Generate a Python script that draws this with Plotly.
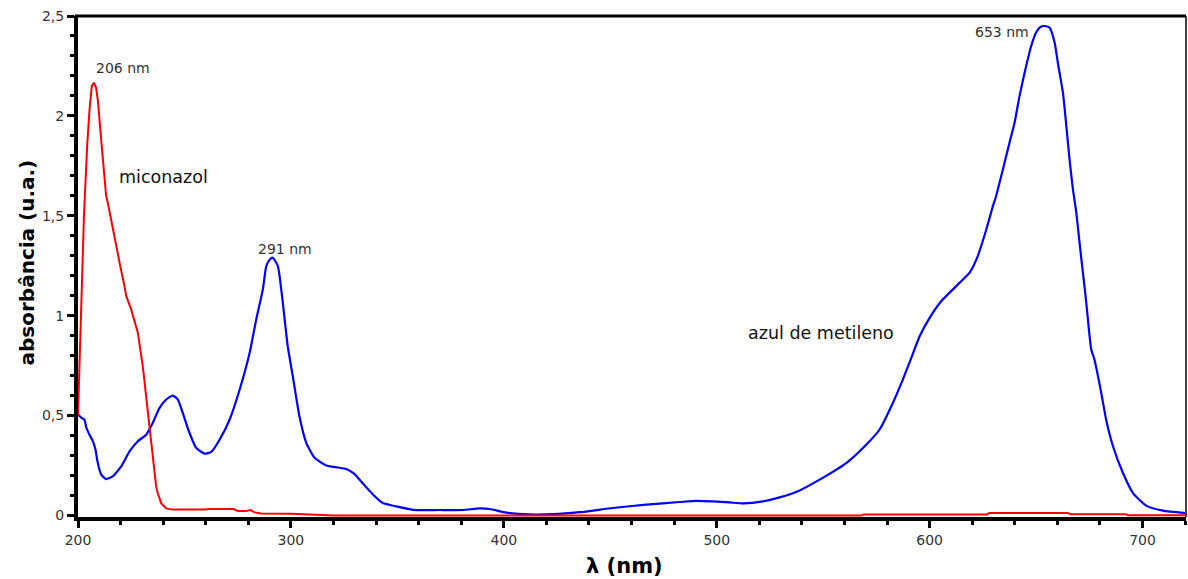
import plotly.graph_objects as go

# ---- data ----
blue_x = [200, 201.5, 203, 203.9, 205.4, 207, 208.2, 209.3, 210.9, 213.2, 216.3, 220.3, 224.2,
          228.1, 232, 235.1, 238.3, 241.4, 244.5, 246.9, 249.2, 251.6, 255.5, 259.4, 262.6,
          266.5, 271.2, 275.9, 280.6, 283.7, 286.8, 288.4, 290, 291.5, 293.9, 296.2, 298.5,
          300.9, 304, 307.2, 311, 316.6, 322, 326, 329.5, 333.8, 338.5, 343.2, 349.5, 357.3,
          370, 380.7, 388.6, 393.3, 401.1, 408.9, 423, 435.6, 451.2, 466.9, 482.5, 490.4,
          498.2, 506, 512.3, 521.7, 529.5, 538.9, 548.3, 560.8, 570.2, 576.5, 582.7, 587.4,
          591.4, 595.3, 600, 605.4, 609.3, 614, 618.7, 622.6, 626.6, 629.7, 631.2, 634.4,
          637.5, 639.9, 642.2, 644.6, 647.7, 650, 652, 654, 656.3, 658.7, 660.2, 662.6, 664.2,
          665.7, 667.3, 668.9, 670.4, 672, 673.5, 675.9, 677.4, 680.6, 682.9, 686.1, 690.8,
          695.5, 701.7, 709.6, 720]
blue_y = [0.505, 0.49, 0.479, 0.44, 0.404, 0.371, 0.33, 0.262, 0.204, 0.182, 0.195, 0.245, 0.32,
          0.371, 0.404, 0.463, 0.538, 0.58, 0.6, 0.58, 0.513, 0.435, 0.338, 0.309, 0.318,
          0.379, 0.479, 0.629, 0.813, 0.98, 1.13, 1.247, 1.28, 1.29, 1.247, 1.064, 0.847,
          0.696, 0.496, 0.363, 0.29, 0.25, 0.24, 0.232, 0.21, 0.16, 0.105, 0.062, 0.045, 0.028,
          0.027, 0.027, 0.035, 0.032, 0.014, 0.006, 0.006, 0.016, 0.037, 0.054, 0.067, 0.073,
          0.07, 0.065, 0.06, 0.07, 0.09, 0.125, 0.179, 0.262, 0.354, 0.43, 0.563, 0.68,
          0.789, 0.897, 0.989, 1.072, 1.114, 1.164, 1.214, 1.298, 1.431, 1.548, 1.598, 1.732,
          1.866, 1.966, 2.099, 2.216, 2.35, 2.417, 2.445, 2.45, 2.442, 2.367, 2.266, 2.116, 1.949,
          1.782, 1.632, 1.515, 1.365, 1.214, 1.072, 0.83, 0.78, 0.613, 0.479, 0.346, 0.212,
          0.112, 0.049, 0.024, 0.012]

red_x = [200, 201.5, 202.8, 204.3, 205.4, 206.5, 207.5, 208.5, 209.3, 210.9, 212.3, 213.2, 214,
         215.5, 217.9, 220, 221.8, 222.6, 225, 228.1, 230.4, 232, 232.8, 233.6, 235.1, 236.7,
         237.5, 239.1, 241.4, 244.5, 260, 261, 273, 275, 279, 281, 283, 286, 300, 304, 312,
         320, 568, 569, 627, 628, 665, 666, 692, 693, 720]
red_y = [0.5, 1.1, 1.5, 1.85, 2.03, 2.15, 2.166, 2.14, 2.08, 1.88, 1.7, 1.6, 1.565,
         1.48, 1.35, 1.24, 1.15, 1.1, 1.03, 0.914, 0.75, 0.6, 0.5, 0.44, 0.29, 0.145,
         0.11, 0.06, 0.035, 0.029, 0.029, 0.032, 0.032, 0.022, 0.022, 0.027, 0.015, 0.01, 0.008, 0.006, 0.002,
         0.0, 0.0, 0.005, 0.005, 0.012, 0.012, 0.006, 0.006, 0.001, 0.001]

y_tick_vals = [0, 0.5, 1, 1.5, 2, 2.5]
y_tick_text = ["0", "0,5", "1", "1,5", "2", "2,5"]
x_tick_vals = [200, 300, 400, 500, 600, 700]
x_tick_text = ["200", "300", "400", "500", "600", "700"]

labels_text = ["206 nm", "miconazol", "291 nm", "azul de metileno", "653 nm"]
labels_x = [220.9, 240.2, 297.0, 549.2, 633.8]
labels_y = [2.238, 1.692, 1.336, 0.915, 2.418]
labels_size = [14, 17.5, 14, 17.5, 14]
labels_color = ["#333333", "#111111", "#333333", "#111111", "#333333"]

FONT = "DejaVu Sans"

# minor tick positions (every 20 nm and every 0.1)
x_minor = [200 + 20 * i for i in range(27)]
y_minor = [round(0.1 * i, 1) for i in range(26)]

fig = go.Figure()
fig.add_trace(go.Scatter(x=blue_x, y=blue_y, mode="lines",
                         line=dict(color="#0000ff", width=2.2, shape="spline", smoothing=0.5),
                         hoverinfo="skip"))
fig.add_trace(go.Scatter(x=red_x, y=red_y, mode="lines",
                         line=dict(color="#ff0000", width=2), hoverinfo="skip"))

annotations = []
for t, x, y, s, c in zip(labels_text, labels_x, labels_y, labels_size, labels_color):
    annotations.append(dict(x=x, y=y, xref="x", yref="y", text=t, showarrow=False,
                            xanchor="center", yanchor="middle",
                            font=dict(family=FONT, size=s, color=c)))
# axis titles
annotations.append(dict(x=0, y=0.508, xref="paper", yref="paper", text="<b>absorbância (u.a.)</b>",
                        showarrow=False, textangle=-90, xanchor="center", yanchor="middle",
                        xshift=-51, font=dict(family=FONT, size=20, color="#000000")))
annotations.append(dict(x=0.493, y=0, xref="paper", yref="paper", text="<b>λ (nm)</b>",
                        showarrow=False, xanchor="center", yanchor="middle",
                        yshift=-49, font=dict(family=FONT, size=21, color="#000000")))

fig.update_layout(
    width=1188, height=579,
    margin=dict(l=78, r=2, t=16, b=62, autoexpand=False),
    paper_bgcolor="white", plot_bgcolor="white",
    showlegend=False,
    annotations=annotations,
    shapes=[
        dict(type="line", xref="paper", yref="paper", x0=-0.003, x1=1, y0=1, y1=1,
             line=dict(color="black", width=3)),
        dict(type="line", xref="paper", yref="paper", x0=1, x1=1, y0=0, y1=1,
             line=dict(color="black", width=1.5)),
    ],
    xaxis=dict(range=[200, 720.4], showgrid=False, zeroline=False,
               showline=True, linecolor="black", linewidth=4,
               ticks="outside", ticklen=7, tickwidth=3, tickcolor="black",
               tickmode="array", tickvals=x_tick_vals, ticktext=x_tick_text,
               tickfont=dict(family=FONT, size=14, color="#333333"),
               minor=dict(tickmode="array", tickvals=x_minor, ticks="outside", ticklen=4,
                          tickwidth=3, tickcolor="black", showgrid=False)),
    yaxis=dict(range=[-0.008, 2.5], showgrid=False, zeroline=False,
               showline=True, linecolor="black", linewidth=4,
               ticks="outside", ticklen=7, tickwidth=3, tickcolor="black",
               tickmode="array", tickvals=y_tick_vals, ticktext=y_tick_text,
               tickfont=dict(family=FONT, size=14, color="#333333"),
               minor=dict(tickmode="array", tickvals=y_minor, ticks="outside", ticklen=4,
                          tickwidth=3, tickcolor="black", showgrid=False)),
)

fig.write_html("out.html", config={"displayModeBar": False},
               post_script="document.body.style.margin='0';document.body.style.padding='0';")
